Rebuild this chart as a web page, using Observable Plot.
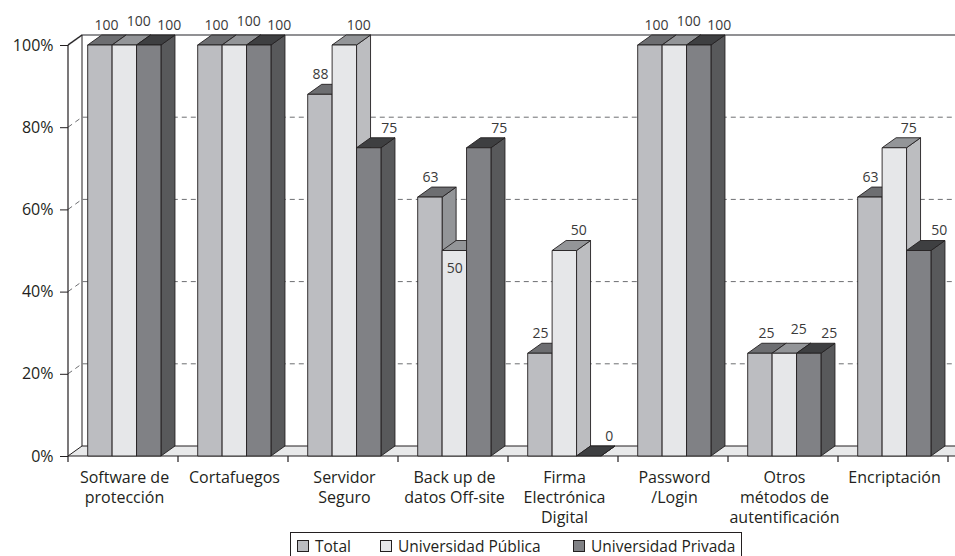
<!DOCTYPE html>
<html><head><meta charset="utf-8">
<script src="https://cdn.jsdelivr.net/npm/d3@7"></script>
<script src="https://cdn.jsdelivr.net/npm/@observablehq/plot@0.6"></script>
<style>
body{margin:0;background:#fff;font-family:"Open Sans",sans-serif;}
#wrap{position:relative;width:955px;height:556px;overflow:hidden;background:#fff;}
#legend{position:absolute;left:290px;top:532px;width:452px;height:32px;border:1px solid #231f20;box-sizing:border-box;font-size:15.5px;color:#231f20;}
#legend .item{position:absolute;top:2px;display:flex;align-items:center;white-space:nowrap;line-height:22px;}
#legend .sw{width:10px;height:10px;border:1px solid #231f20;margin-right:6px;}
</style></head>
<body><div id="wrap"><div id="chart"></div><div id="legend"></div></div>
<script>
// ---- data ----
const categories = ["Software de\nprotección","Cortafuegos","Servidor\nSeguro","Back up de\ndatos Off-site","Firma\nElectrónica\nDigital","Password\n/Login","Otros\nmétodos de\nautentificación","Encriptación"];
const seriesNames = ["Total","Universidad Pública","Universidad Privada"];
const totalValues   = [100,100,88,63,25,100,25,63];
const publicaValues = [100,100,100,50,50,100,25,75];
const privadaValues = [100,100,75,75,0,100,25,50];
const yTicks = [0,20,40,60,80,100];

// ---- styling ----
const frontColors = ["#bcbdc1","#e6e7e9","#808185"];
const topColors   = ["#6d6e71","#939598","#3e3f41"];
const sideColors  = ["#939598","#bcbdc0","#58595b"];
const ink = "#231f20";
const W = 955, H = 530, mL = 68, mR = 6, mT = 45, mB = 74;
const depthX = 14, depthY = 10;
const groupPad = 0.17, barFrac = 0.222;
const legendOffsets = [6, 89, 282];
// labels Excel moved inside the bar
const insideLabels = [["Back up de\ndatos Off-site", 1]];

const seriesValues = [totalValues, publicaValues, privadaValues];
const rows = [];
categories.forEach((c, ci) => seriesNames.forEach((s, si) => rows.push({category: c, series: s, si, value: seriesValues[si][ci], ci})));
const allEqual = ci => totalValues[ci] === publicaValues[ci] && publicaValues[ci] === privadaValues[ci];
const isInside = d => insideLabels.some(([c, si]) => c === d.category && si === d.si);

function scene(index, scales, values, dim) {
  const x = scales.x, y = scales.y;
  const bw = x.bandwidth();
  const left = dim.marginLeft;
  const R = dim.width + 30;
  const y0 = y(0), y100 = y(100);
  const g = d3.create("svg:g");
  g.append("rect").attr("x", left + depthX).attr("y", y100 - depthY).attr("width", R - left).attr("height", y0 - y100).attr("fill", "#fff");
  for (const t of yTicks.filter(t => t > 0 && t < 100)) {
    g.append("path").attr("d", `M${left},${y(t)}L${left + depthX},${y(t) - depthY}L${R},${y(t) - depthY}`)
      .attr("fill", "none").attr("stroke", "#6d6e71").attr("stroke-dasharray", "5,4").attr("stroke-width", 1);
  }
  g.append("path").attr("d", `M${left},${y100}L${left + depthX},${y100 - depthY}L${R},${y100 - depthY}`)
    .attr("fill", "none").attr("stroke", "#6d6e71").attr("stroke-width", 1.6);
  g.append("path").attr("d", `M${left},${y100}L${left + depthX},${y100 - depthY}`).attr("stroke", ink).attr("stroke-width", 1);
  g.append("line").attr("x1", left + depthX).attr("x2", left + depthX).attr("y1", y100 - depthY).attr("y2", y0 - depthY).attr("stroke", ink).attr("stroke-width", 1);
  g.append("line").attr("x1", left).attr("x2", left).attr("y1", y100).attr("y2", y0).attr("stroke", ink).attr("stroke-width", 1.2);
  g.append("path").attr("d", `M${left},${y0}L${R},${y0}L${R + depthX},${y0 - depthY}L${left + depthX},${y0 - depthY}Z`)
    .attr("fill", "#e8e9ea").attr("stroke", ink).attr("stroke-width", 1);
  for (let k = 0; k <= categories.length; k++) {
    const xx = left + k * bw;
    g.append("line").attr("x1", xx).attr("x2", xx).attr("y1", y0).attr("y2", y0 + 6).attr("stroke", ink).attr("stroke-width", 1.2);
  }
  const bW = barFrac * bw;
  for (const c of categories) {
    for (let si = 0; si < 3; si++) {
      const d = rows.find(r => r.category === c && r.si === si);
      const x1 = x(c) + groupPad * bw + si * bW, x2 = x1 + bW;
      const yt = y(d.value), yb = y0;
      const common = s => s.attr("stroke", ink).attr("stroke-width", 0.9).attr("stroke-linejoin", "round");
      common(g.append("path").attr("d", `M${x2},${yb}L${x2 + depthX},${yb - depthY}L${x2 + depthX},${yt - depthY}L${x2},${yt}Z`).attr("fill", sideColors[si]));
      common(g.append("path").attr("d", `M${x1},${yt}L${x2},${yt}L${x2 + depthX},${yt - depthY}L${x1 + depthX},${yt - depthY}Z`).attr("fill", topColors[si]));
      common(g.append("rect").attr("x", x1).attr("y", yt).attr("width", bW).attr("height", yb - yt).attr("fill", frontColors[si]));
    }
  }
  return g.node();
}

const bwPx = (W - mL - mR) / categories.length;
const barCenterDx = si => groupPad * bwPx + barFrac * bwPx * (si + 0.5) - bwPx / 2;
const labelMarks = [];
const opts = (dx, dy) => ({x: "category", y: "value", text: d => String(d.value), dx, dy, fontSize: 14, fill: "#3a3a3a"});
for (let si = 0; si < 3; si++) {
  const sel = f => rows.filter(d => d.si === si && f(d));
  if (si === 0) {
    labelMarks.push(Plot.text(sel(d => allEqual(d.ci)), opts(barCenterDx(0) + 6, -20)));
    labelMarks.push(Plot.text(sel(d => !allEqual(d.ci)), opts(barCenterDx(0), -20)));
  } else if (si === 1) {
    labelMarks.push(Plot.text(sel(d => allEqual(d.ci)), opts(barCenterDx(1) + 14, -24)));
    labelMarks.push(Plot.text(sel(d => !allEqual(d.ci) && !isInside(d)), opts(barCenterDx(1) + 14, -20)));
    labelMarks.push(Plot.text(sel(d => isInside(d)), opts(barCenterDx(1), 18)));
  } else {
    labelMarks.push(Plot.text(sel(d => true), opts(barCenterDx(2) + 20, -20)));
  }
}

const chart = Plot.plot({
  width: W, height: H,
  marginLeft: mL, marginRight: mR, marginTop: mT, marginBottom: mB,
  style: {fontFamily: "'Open Sans', sans-serif", fontSize: "16px", color: ink, background: "transparent", overflow: "visible"},
  x: {type: "band", domain: categories, padding: 0, axis: null},
  y: {domain: [0, 100], ticks: yTicks, tickFormat: d => d + "%", tickSize: 8, tickPadding: 7, label: null},
  marks: [
    scene,
    ...labelMarks,
    Plot.text(categories, {x: d => d, frameAnchor: "bottom", dy: 12, lineAnchor: "top", lineHeight: 1.25, fontSize: 16, fill: ink, text: d => d})
  ]
});
document.getElementById("chart").appendChild(chart);

const legend = d3.select("#legend");
seriesNames.forEach((s, i) => {
  const it = legend.append("div").attr("class", "item").style("left", legendOffsets[i] + "px");
  it.append("div").attr("class", "sw").style("background", frontColors[i]);
  it.append("span").text(s);
});
</script>
</body></html>
